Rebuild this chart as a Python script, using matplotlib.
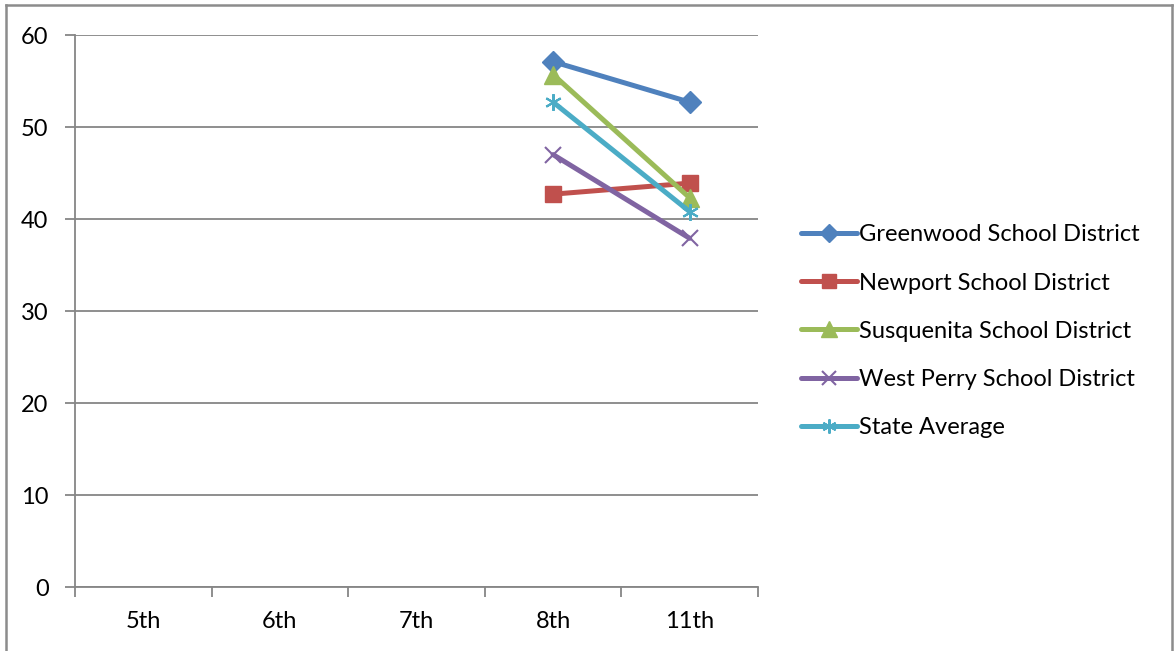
import numpy as np
import matplotlib
matplotlib.use("Agg")
import matplotlib.pyplot as plt
from matplotlib.lines import Line2D

# データ
grades = ["5th", "6th", "7th", "8th", "11th"]
greenwood = [np.nan, np.nan, np.nan, 57.1, 52.7]
newport = [np.nan, np.nan, np.nan, 42.7, 43.9]
susquenita = [np.nan, np.nan, np.nan, 55.7, 42.3]
west_perry = [np.nan, np.nan, np.nan, 47.0, 37.9]
state_avg = [np.nan, np.nan, np.nan, 52.7, 40.8]

series = [
    ("Greenwood School District", greenwood, "#4F81BD", "D", 11),
    ("Newport School District", newport, "#C0504D", "s", 12),
    ("Susquenita School District", susquenita, "#9BBB59", "^", 13),
    ("West Perry School District", west_perry, "#8064A2", "x", 12),
    ("State Average", state_avg, "#4BACC6", "*", 12),
]

plt.rcParams["font.family"] = ["Lato", "DejaVu Sans"]
fs = 17

fig = plt.figure(figsize=(11.76, 6.51), dpi=100)
W, H = 1176, 651
ax = fig.add_axes([75 / W, (H - 587) / H, 683 / W, 552 / H])

x = np.arange(len(grades))
handles = []
for name, vals, col, mk, ms in series:
    if mk == "*":
        # アスタリスク風マーカー
        (h,) = ax.plot(x, vals, color=col, lw=3.6, marker=(6, 2, 0), ms=ms,
                       mew=1.5, mec=col, label=name, solid_capstyle="round")
    elif mk == "x":
        (h,) = ax.plot(x, vals, color=col, lw=3.6, marker=mk, ms=ms,
                       mew=1.5, mec=col, label=name, solid_capstyle="round")
    else:
        (h,) = ax.plot(x, vals, color=col, lw=3.6, marker=mk, ms=ms,
                       mec=col, label=name, solid_capstyle="round")
    handles.append(h)

ax.set_xlim(-0.5, len(grades) - 0.5)
ax.set_ylim(0, 60)
ax.set_yticks(range(0, 61, 10))
ax.yaxis.grid(True, color="#868686", lw=1.3)
ax.set_axisbelow(True)

# 目盛は区切り位置に、ラベルは中央に
ax.set_xticks(np.arange(-0.5, len(grades), 1.0))
ax.set_xticklabels([])
ax.set_xticks(x, minor=True)
ax.set_xticklabels(grades, minor=True, fontsize=fs)
ax.tick_params(axis="x", which="minor", length=0, pad=17)
ax.tick_params(axis="x", which="major", length=7, width=1.3, color="#868686")
ax.tick_params(axis="y", length=7, width=1.3, color="#868686", labelsize=fs, pad=12)

for s in ["top", "right"]:
    ax.spines[s].set_visible(False)
for s in ["left", "bottom"]:
    ax.spines[s].set_color("#868686")
    ax.spines[s].set_linewidth(1.3)

fig.legend(handles=handles, loc="upper left", bbox_to_anchor=(792 / W, 1 - 215 / H),
           frameon=False, fontsize=fs, handlelength=2.35, handletextpad=0.1,
           labelspacing=1.15, borderaxespad=0, markerscale=0.85)

# 外枠
bc = "#8C8C8C"
fig.add_artist(Line2D([6 / W, 6 / W], [0, 1 - 5 / H], transform=fig.transFigure, color=bc, lw=1.8))
fig.add_artist(Line2D([6 / W, 1172 / W], [1 - 5 / H, 1 - 5 / H], transform=fig.transFigure, color=bc, lw=1.8))
fig.add_artist(Line2D([1172 / W, 1172 / W], [0, 1 - 5 / H], transform=fig.transFigure, color=bc, lw=1.8))

fig.savefig("out.png", dpi=100)
